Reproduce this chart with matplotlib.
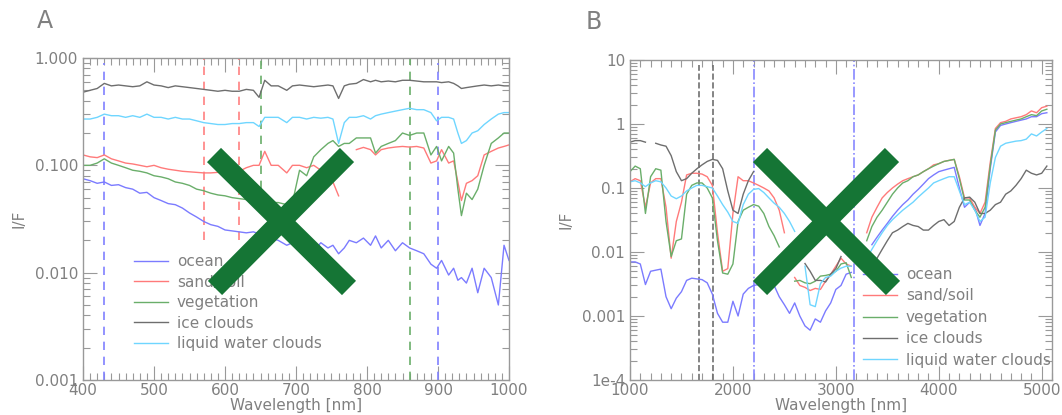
import numpy as np
import matplotlib
matplotlib.use("Agg")
import matplotlib.pyplot as plt
from matplotlib.lines import Line2D
from matplotlib.ticker import LogLocator, MultipleLocator, NullFormatter

nan = np.nan

# ---------------- panel A : visible / NIR ----------------
wl_a = [400, 410, 420, 430, 440, 450, 460, 470, 480, 490,
        500, 510, 520, 530, 540, 550, 560, 570, 580, 590,
        600, 610, 620, 630, 640, 648, 656, 665, 675, 687,
        695, 705, 715, 725, 735, 745, 752, 760, 768, 775,
        785, 795, 805, 812, 820, 830, 840, 850, 860, 870,
        880, 890, 898, 905, 915, 922, 928, 933, 940, 948,
        956, 965, 975, 985, 993, 1000]

ocean_a = [0.075, 0.072, 0.068, 0.070, 0.065, 0.066, 0.062, 0.060, 0.055, 0.056,
           0.050, 0.047, 0.044, 0.043, 0.040, 0.036, 0.033, 0.030, 0.028, 0.027,
           0.025, 0.0245, 0.024, 0.0235, 0.024, 0.023, 0.025, 0.021, 0.020, 0.018,
           0.019, 0.017, 0.018, 0.016, 0.019, 0.017, 0.018, 0.015, 0.017, 0.020,
           0.019, 0.021, 0.018, 0.022, 0.017, 0.020, 0.016, 0.019, 0.017, 0.016,
           0.015, 0.012, 0.011, 0.013, 0.0095, 0.011, 0.0085, 0.009, 0.008, 0.011,
           0.0065, 0.011, 0.009, 0.005, 0.018, 0.013]

sand_a = [0.125, 0.120, 0.118, 0.125, 0.115, 0.110, 0.105, 0.103, 0.100, 0.097,
          0.100, 0.095, 0.092, 0.090, 0.088, 0.087, 0.086, 0.085, 0.085, 0.086,
          0.085, 0.087, 0.088, 0.095, 0.100, 0.100, 0.135, 0.100, 0.100, 0.085,
          0.100, 0.100, 0.095, 0.100, 0.090, 0.090, 0.070, 0.052, nan, nan,
          0.140, 0.147, 0.140, 0.125, 0.140, 0.145, 0.148, 0.150, 0.148, 0.150,
          0.145, 0.105, 0.110, 0.140, 0.105, 0.110, 0.070, 0.047, 0.068, 0.072,
          0.080, 0.125, 0.135, 0.145, 0.150, 0.155]

veg_a = [0.100, 0.100, 0.105, 0.115, 0.105, 0.100, 0.095, 0.090, 0.088, 0.085,
         0.080, 0.078, 0.075, 0.070, 0.068, 0.065, 0.060, 0.058, 0.055, 0.053,
         0.052, 0.050, 0.049, 0.048, 0.047, 0.046, 0.047, 0.045, 0.045, 0.043,
         0.045, 0.090, 0.080, 0.120, 0.140, 0.160, 0.170, 0.150, 0.160, 0.160,
         0.180, 0.180, 0.180, 0.130, 0.150, 0.160, 0.170, 0.200, 0.190, 0.200,
         0.200, 0.125, 0.150, 0.110, 0.150, 0.130, 0.060, 0.034, 0.055, 0.048,
         0.060, 0.100, 0.160, 0.180, 0.200, 0.200]

ice_a = [0.48, 0.50, 0.52, 0.58, 0.55, 0.56, 0.55, 0.54, 0.55, 0.60,
         0.56, 0.55, 0.53, 0.55, 0.54, 0.53, 0.52, 0.51, 0.50, 0.49,
         0.50, 0.49, 0.49, 0.51, 0.50, 0.43, 0.62, 0.55, 0.55, 0.50,
         0.55, 0.56, 0.55, 0.54, 0.55, 0.56, 0.55, 0.42, 0.55, 0.57,
         0.58, 0.63, 0.60, 0.62, 0.60, 0.61, 0.60, 0.62, 0.62, 0.61,
         0.60, 0.60, 0.60, 0.59, 0.60, 0.58, 0.55, 0.52, 0.53, 0.54,
         0.55, 0.56, 0.55, 0.56, 0.55, 0.55]

liquid_a = [0.27, 0.27, 0.28, 0.30, 0.29, 0.29, 0.28, 0.29, 0.28, 0.30,
            0.28, 0.28, 0.27, 0.28, 0.27, 0.27, 0.26, 0.25, 0.245, 0.24,
            0.24, 0.245, 0.245, 0.25, 0.25, 0.23, 0.28, 0.28, 0.28, 0.25,
            0.28, 0.28, 0.27, 0.28, 0.275, 0.28, 0.27, 0.16, 0.25, 0.28,
            0.28, 0.29, 0.27, 0.29, 0.30, 0.31, 0.32, 0.33, 0.34, 0.33,
            0.33, 0.31, 0.26, 0.28, 0.28, 0.27, 0.20, 0.16, 0.17, 0.20,
            0.21, 0.24, 0.27, 0.30, 0.31, 0.31]

# marker lines in A: (wavelength, colour, y from, y to)
vl_a = [(430, "#8080ff", 0.001, 0.9), (570, "#ff8080", 0.02, 1.0),
        (620, "#ff8080", 0.02, 1.0), (650, "#6aae6a", 0.06, 0.95),
        (860, "#6aae6a", 0.001, 1.0), (900, "#8080ff", 0.001, 0.9)]

# ---------------- panel B : SWIR / MIR ----------------
wl_b = np.arange(1000, 5051, 50)

ocean_b = [0.0070, 0.0070, 0.0065, 0.0031, 0.0050, 0.0052, 0.0054, 0.0020, 0.0013, 0.0019,
           0.0024, 0.0036, 0.0039, 0.0038, 0.0037, 0.0033, 0.0022, 0.0011, 0.0008, 0.0008,
           0.0017, 0.0010, 0.0022, 0.0027, 0.0030, 0.0031, 0.0030, 0.0030, 0.0030, 0.0020,
           0.0015, 0.0011, 0.0016, 0.0010, 0.0007, 0.0006, 0.0009, 0.0008, 0.0012, 0.0016,
           0.0026, 0.0030, 0.0045, 0.0048, nan, nan, nan, 0.013, 0.017, 0.022,
           0.028, 0.036, 0.045, 0.055, 0.065, 0.080, 0.095, 0.115, 0.14, 0.16,
           0.18, 0.19, 0.20, 0.21, 0.10, 0.05, 0.06, 0.05, 0.026, 0.04,
           0.20, 0.75, 0.95, 1.0, 1.05, 1.1, 1.15, 1.2, 1.3, 1.3,
           1.45, 1.5]

sand_b = [0.125, 0.14, 0.13, 0.05, 0.12, 0.14, 0.14, 0.05, 0.008, 0.03,
          0.06, 0.16, 0.17, 0.17, 0.165, 0.15, 0.11, 0.02, 0.005, 0.0055,
          0.04, 0.15, 0.13, 0.13, 0.12, 0.11, 0.10, 0.09, 0.07, 0.045,
          0.02, nan, 0.004, 0.003, 0.0028, 0.0025, 0.0027, 0.0026, 0.0035, 0.0045,
          0.006, 0.008, 0.0065, 0.006, nan, nan, 0.02, 0.035, 0.05, 0.07,
          0.085, 0.10, 0.115, 0.13, 0.14, 0.15, 0.16, 0.18, 0.20, 0.23,
          0.24, 0.26, 0.27, 0.28, 0.15, 0.07, 0.07, 0.05, 0.04, 0.06,
          0.25, 0.85, 1.05, 1.1, 1.2, 1.25, 1.3, 1.4, 1.6, 1.5,
          1.8, 1.9]

veg_b = [0.18, 0.22, 0.20, 0.04, 0.15, 0.20, 0.19, 0.03, 0.0085, 0.015,
         0.016, 0.08, 0.11, 0.12, 0.12, 0.10, 0.07, 0.015, 0.0047, 0.0045,
         0.0065, 0.03, 0.045, 0.05, 0.055, 0.052, 0.04, 0.025, 0.018, 0.012,
         nan, nan, 0.0035, 0.0036, 0.0033, 0.0032, 0.0035, 0.0042, 0.0043, 0.0045,
         0.005, 0.0065, 0.0068, 0.004, nan, nan, 0.015, 0.025, 0.035, 0.045,
         0.06, 0.08, 0.10, 0.12, 0.13, 0.15, 0.16, 0.18, 0.20, 0.22,
         0.24, 0.26, 0.27, 0.28, 0.14, 0.065, 0.065, 0.045, 0.035, 0.05,
         0.22, 0.8, 1.0, 1.05, 1.1, 1.15, 1.2, 1.3, 1.4, 1.35,
         1.6, 1.7]

ice_b = [0.52, 0.55, 0.55, 0.52, nan, 0.50, 0.47, 0.45, 0.32, 0.18,
         0.13, 0.14, 0.17, 0.20, 0.23, 0.26, 0.28, 0.27, 0.20, 0.09,
         0.045, 0.04, 0.08, 0.13, 0.18, nan, nan, nan, nan, nan,
         nan, nan, nan, nan, 0.0066, 0.005, 0.0036, 0.0036, 0.0034, 0.0045,
         0.0055, 0.0085, nan, nan, nan, nan, nan, nan, 0.008, 0.011,
         0.015, 0.02, 0.022, 0.025, 0.028, 0.026, 0.025, 0.022, 0.022, 0.026,
         0.03, 0.032, 0.026, 0.03, 0.05, 0.07, 0.072, 0.06, 0.04, 0.04,
         0.045, 0.055, 0.06, 0.08, 0.09, 0.11, 0.14, 0.19, 0.17, 0.16,
         0.17, 0.22]

liquid_b = [0.125, 0.13, 0.12, 0.105, 0.12, 0.13, 0.125, 0.10, 0.075, 0.068,
            0.075, 0.09, 0.10, 0.11, 0.11, 0.105, 0.10, 0.075, 0.055, 0.042,
            0.03, 0.028, 0.055, 0.08, 0.095, 0.098, 0.085, 0.07, 0.058, 0.05,
            0.04, 0.03, 0.021, nan, 0.006, 0.0015, 0.0014, 0.0032, 0.004, 0.0042,
            0.005, 0.0056, 0.006, 0.006, nan, nan, 0.008, 0.011, 0.015, 0.02,
            0.026, 0.032, 0.038, 0.045, 0.052, 0.06, 0.072, 0.085, 0.10, 0.12,
            0.13, 0.14, 0.15, 0.15, 0.09, 0.055, 0.06, 0.045, 0.03, 0.035,
            0.12, 0.3, 0.45, 0.5, 0.52, 0.54, 0.55, 0.58, 0.7, 0.65,
            0.75, 0.85]

vl_b = [(1670, "#707070", "--", 1e-4, 8.3), (1805, "#707070", "--", 1e-4, 8.3),
        (2200, "#8888ff", "-.", 1e-4, 10), (3175, "#8888ff", "-.", 1e-4, 10)]

names = ["ocean", "sand/soil", "vegetation", "ice clouds", "liquid water clouds"]
colors = ["#7b7bff", "#ff7a7a", "#6aae6a", "#6e6e6e", "#6fd6ff"]

grey = "#808080"
plt.rcParams["font.size"] = 11

fig = plt.figure(figsize=(10.62, 4.15), dpi=100)
W, H = 1062.0, 415.0
ax_a = fig.add_axes([83 / W, 1 - 380 / H, 426 / W, 322 / H])
ax_b = fig.add_axes([630 / W, 1 - 380 / H, 422 / W, 320 / H])


def style(ax):
    for s in ax.spines.values():
        s.set_color("#999999")
        s.set_linewidth(1.0)
    ax.tick_params(which="both", direction="in", top=True, right=True,
                   color="#999999", labelcolor=grey, labelsize=11)
    ax.tick_params(which="major", length=10, width=0.8)
    ax.tick_params(which="minor", length=5, width=0.8)
    ax.tick_params(axis="x", pad=2)
    ax.yaxis.set_minor_locator(LogLocator(base=10, subs=np.arange(2, 10)))
    ax.yaxis.set_minor_formatter(NullFormatter())
    ax.set_xlabel("Wavelength [nm]", color=grey, fontsize=11, labelpad=0)
    ax.set_ylabel("I/F", color=grey, fontsize=11, labelpad=6)


# panel A
for w, c, y0, y1 in vl_a:
    ax_a.vlines(w, y0, y1, colors=c, linestyles=(0, (5, 4)), lw=1.2)
for ys, c, n in zip([ocean_a, sand_a, veg_a, ice_a, liquid_a], colors, names):
    ax_a.plot(wl_a, ys, color=c, lw=1.0, label=n)
ax_a.set_yscale("log")
ax_a.set_xlim(400, 1000)
ax_a.set_ylim(0.001, 1.0)
ax_a.xaxis.set_major_locator(MultipleLocator(100))
ax_a.xaxis.set_minor_locator(MultipleLocator(10))
ax_a.set_yticks([0.001, 0.01, 0.1, 1.0])
ax_a.set_yticklabels(["0.001", "0.010", "0.100", "1.000"])
style(ax_a)
ax_a.legend(loc="upper left", bbox_to_anchor=(0.12, 0.391), frameon=False,
            borderpad=0, borderaxespad=0, handlelength=2.2, handletextpad=0.6,
            labelspacing=0.36, labelcolor=grey, fontsize=11)

# panel B
for w, c, ls, y0, y1 in vl_b:
    ax_b.vlines(w, y0, y1, colors=c, linestyles=ls, lw=1.2)
for ys, c, n in zip([ocean_b, sand_b, veg_b, ice_b, liquid_b], colors, names):
    ax_b.plot(wl_b, ys, color=c, lw=1.0, label=n)
ax_b.set_yscale("log")
ax_b.set_xlim(1000, 5100)
ax_b.set_ylim(1e-4, 10)
ax_b.xaxis.set_major_locator(MultipleLocator(1000))
ax_b.xaxis.set_minor_locator(MultipleLocator(100))
ax_b.set_yticks([1e-4, 1e-3, 1e-2, 0.1, 1, 10])
ax_b.set_yticklabels(["1e-4", "0.001", "0.01", "0.1", "1", "10"])
style(ax_b)
ax_b.legend(loc="upper left", bbox_to_anchor=(0.552, 0.353), frameon=False,
            borderpad=0, borderaxespad=0, handlelength=2.2, handletextpad=0.6,
            labelspacing=0.42, labelcolor=grey, fontsize=11)

fig.text(37 / W, 1 - 28 / H, "A", color=grey, fontsize=17)
fig.text(586 / W, 1 - 29 / H, "B", color=grey, fontsize=17)

# big green crosses drawn over both panels
x_green = "#157535"
for (x0, y0, x1, y1) in [(214, 155, 349, 288), (347, 155, 215, 288),
                         (760, 155, 893, 288), (892, 155, 760, 288)]:
    fig.add_artist(Line2D([x0 / W, x1 / W], [1 - y0 / H, 1 - y1 / H],
                          transform=fig.transFigure, color=x_green, lw=14.4,
                          solid_capstyle="butt", zorder=10))

fig.savefig("out.png", dpi=100)
